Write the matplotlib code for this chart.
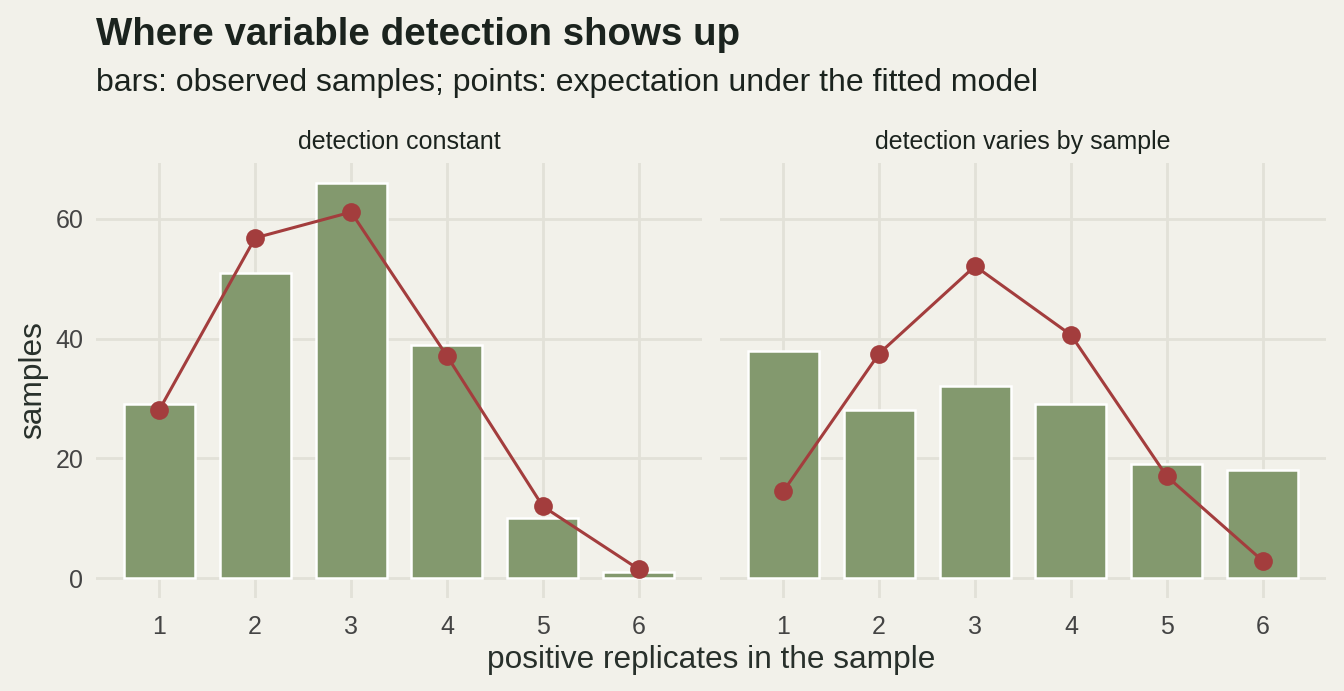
import numpy as np
import matplotlib.pyplot as plt

plt.rcParams['font.family'] = ['Liberation Sans', 'DejaVu Sans']

# data
replicates = [1, 2, 3, 4, 5, 6]
panels = ["detection constant", "detection varies by sample"]
observed_const = [29, 51, 66, 39, 10, 1]
expected_const = [28.1, 56.8, 61.1, 37.1, 12.0, 1.5]
observed_var = [38, 28, 32, 29, 19, 18]
expected_var = [14.5, 37.5, 52.1, 40.6, 17.0, 2.9]

bg = "#F2F1EA"
grid_col = "#E2E1D8"
bar_col = "#83996E"
red = "#A33D3D"
txt = "#1B231E"

W, H = 1344, 691
fig = plt.figure(figsize=(W / 100, H / 100), dpi=100, facecolor=bg)

def box(x0, x1, y0, y1):
    return [x0 / W, 1 - y1 / H, (x1 - x0) / W, (y1 - y0) / H]

ax1 = fig.add_axes(box(96, 702, 163, 598))
ax2 = fig.add_axes(box(720, 1326, 163, 598))

for ax, obs, exp, name in [(ax1, observed_const, expected_const, panels[0]),
                           (ax2, observed_var, expected_var, panels[1])]:
    ax.set_facecolor(bg)
    ax.bar(replicates, obs, width=0.74, color=bar_col, edgecolor="white",
           linewidth=1.8, zorder=3)
    ax.plot(replicates, exp, color=red, lw=2.2, marker="o", markersize=13.5,
            markeredgewidth=0, zorder=4)
    ax.set_xlim(0.34, 6.66)
    ax.set_ylim(-3.3, 69.3)
    ax.set_xticks(replicates)
    ax.set_yticks([0, 20, 40, 60])
    ax.grid(True, color=grid_col, lw=2.0, zorder=0)
    ax.set_axisbelow(True)
    for s in ax.spines.values():
        s.set_visible(False)
    ax.tick_params(axis="x", length=0, labelsize=18, colors="#444444", pad=12)
    ax.tick_params(axis="y", length=0, labelsize=18, colors="#444444", pad=9)
    ax.set_title(name, fontsize=18, color=txt, pad=10)

ax2.tick_params(labelleft=False)

fig.text(96 / W, 1 - 45 / H, "Where variable detection shows up", fontsize=27.7,
         fontweight="bold", color=txt, ha="left", va="baseline")
fig.text(96 / W, 1 - 91 / H, "bars: observed samples; points: expectation under the fitted model",
         fontsize=23, color=txt, ha="left", va="baseline")
fig.text(711 / W, 1 - 660 / H, "positive replicates in the sample", fontsize=22.8,
         color="#28302B", ha="center", va="center")
fig.text(33 / W, 1 - 380 / H, "samples", fontsize=22.8, color="#28302B",
         ha="center", va="center", rotation=90)

fig.savefig("out.png", dpi=100, facecolor=bg)
